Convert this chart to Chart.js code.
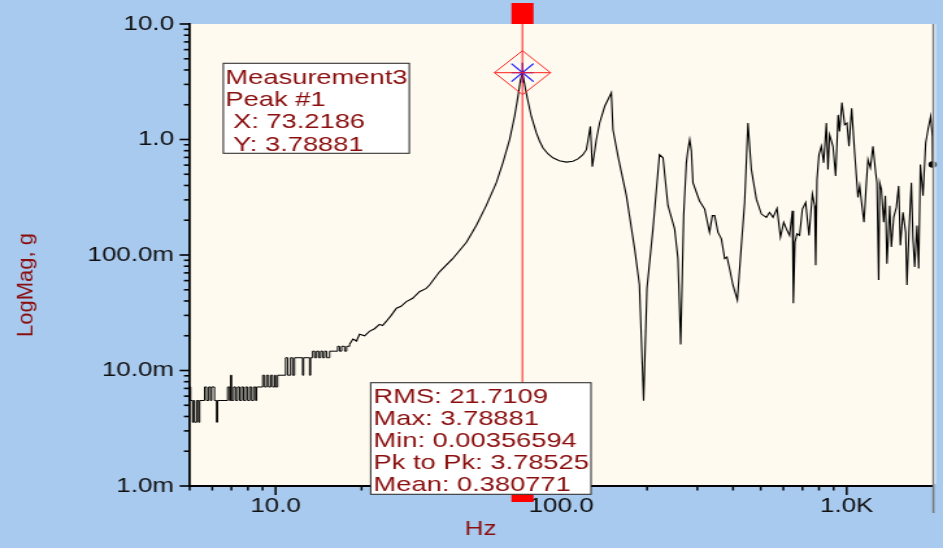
<!DOCTYPE html>
<html>
<head>
<meta charset="utf-8">
<title>LogMag, g</title>
<script src="https://cdn.jsdelivr.net/npm/chart.js@4.4.1/dist/chart.umd.min.js"></script>
<style>
  html, body { margin: 0; padding: 0; background: #a8caef; overflow: hidden; }
</style>
</head>
<body>
<!-- drawn at 726 wide and shown at 943, so the whole plot is widened like the analyzer's export -->
<canvas id="plot" width="726" height="548" style="width:943px;height:548px;display:block"></canvas>
<script>
// low band, quantized readings (Hz / g), drawn as steps
const stepFreq = [5.00, 5.04, 5.12, 5.16, 5.20, 5.29, 5.37, 5.42, 5.64, 5.73, 5.83, 5.92, 5.97, 6.11, 6.21, 6.26,
  6.79, 6.90, 6.96, 7.01, 7.13, 7.24, 7.36, 7.48, 7.60, 7.72, 7.85, 7.98, 8.11, 8.24, 8.37, 8.51, 8.58,
  9.01, 9.15, 9.30, 9.45, 9.61, 9.76, 9.92, 10.0, 10.16, 10.84, 11.02, 11.28, 11.47, 11.65, 12.43, 12.53,
  13.15, 13.26, 13.48, 13.70, 13.92, 14.15, 14.38, 14.61, 14.85, 15.09, 15.46, 16.49, 16.75, 17.03, 17.45, 17.73, 18.16];
const stepMag = [0.0072, 0.0055, 0.00356594, 0.0055, 0.00356594, 0.0055, 0.00356594, 0.0055, 0.0072, 0.0055, 0.0072, 0.0055, 0.0072, 0.0055, 0.00356594, 0.0055,
  0.0072, 0.0055, 0.0091, 0.0055, 0.0072, 0.0055, 0.0072, 0.0055, 0.0072, 0.0055, 0.0072, 0.0055, 0.0072, 0.0055, 0.0072, 0.0055, 0.0072,
  0.0091, 0.0072, 0.0091, 0.0072, 0.0091, 0.0072, 0.0091, 0.0072, 0.0091, 0.0129, 0.0091, 0.0129, 0.0091, 0.0129, 0.0091, 0.0129,
  0.0091, 0.0129, 0.0147, 0.0129, 0.0147, 0.0129, 0.0147, 0.0129, 0.0147, 0.0129, 0.0147, 0.0162, 0.0147, 0.0162, 0.0147, 0.0162, 0.0169];

// rest of the spectrum (Hz / g)
const traceFreq = [18.16, 18.66, 19.2, 19.68, 20.5, 21.3, 22.2, 23.1, 23.7, 24.4, 25.4, 26.5, 27.5, 28.7, 30.2, 31.9, 33.7, 34.6,
  37.5, 41.7, 46.6, 50.5, 54.7, 59.3, 62.5, 66.0, 68.7, 70.6, 72.0, 73.2186, 75.5, 78.6, 81.9, 84.0, 86.4, 90.0, 93.6, 98.5,
  104.3, 110.0, 114.5, 119.0, 122.6, 126.6, 128.6, 132.8, 136.4, 142.1, 149.9, 151.9, 158.1, 169.2, 180.9, 188.0, 194.5, 199.8,
  209.7, 221.0, 227.4, 236.6, 249.7, 256.5, 262.2, 268.6, 274.5, 278.1, 282.0, 285.8, 289.5, 305.0, 318.2, 331.0,
  338.5, 344.9, 354.2, 364.1, 373.9, 380.8, 389.0, 399.6, 414.1, 427.7, 439.2, 451.1, 463.6, 482.7, 502.6, 523.3,
  537.0, 552.1, 570.2, 586.1, 601.9, 615.0, 631.0, 645.4, 650.6, 659.1, 669.8, 684.0, 699.5, 718.5, 737.9, 758.5,
  772.6, 778.9, 787.1, 799.9, 815.4, 830.7, 849.1, 860.1, 871.0, 895.4, 915.1, 933.6, 944.0, 962.6, 984.0, 1002.3,
  1018.6, 1041.0, 1066.6, 1095.4, 1111.0, 1131.3, 1149.7, 1172.2, 1187.4, 1210.6, 1236.2, 1263.5, 1276.6, 1294.4,
  1305.0, 1322.8, 1347.8, 1366.2, 1383.9, 1415.0, 1433.8, 1460.8, 1492.7, 1520.8, 1541.7, 1574.6, 1609.4, 1626.2,
  1652.6, 1684.9, 1706.8, 1730.5, 1762.8, 1787.3, 1811.9, 1850.6, 1891.1, 1926.3, 1968.8, 1995.9, 2000];
const traceMag = [0.0169, 0.0187, 0.0180, 0.0206, 0.0200, 0.0218, 0.0230, 0.0251, 0.0245, 0.0266, 0.0300, 0.0346, 0.0360, 0.0395, 0.0422, 0.0481, 0.0514, 0.055,
  0.0715, 0.0929, 0.129, 0.181, 0.269, 0.423, 0.628, 0.996, 1.59, 2.36, 3.26, 3.78881, 2.51, 1.59, 1.14, 0.97, 0.845, 0.75, 0.694, 0.655,
  0.637, 0.648, 0.680, 0.735, 0.817, 1.298, 0.581, 0.996, 1.39, 1.939, 2.542, 1.214, 0.722, 0.327, 0.113, 0.0553, 0.00547, 0.0514,
  0.1682, 0.7405, 0.694, 0.2686, 0.1682, 0.0929, 0.0168, 0.2205, 0.628, 0.817, 0.996, 0.797, 0.423, 0.2948, 0.2497, 0.157,
  0.2192, 0.2192, 0.157, 0.138, 0.0929, 0.0961, 0.0763, 0.055, 0.0408, 0.1212, 0.285, 1.39, 0.5506, 0.3043, 0.2262, 0.212,
  0.234, 0.212, 0.2531, 0.1427, 0.192, 0.1682, 0.1476, 0.2419, 0.0382, 0.129, 0.1524, 0.1476, 0.2497, 0.285, 0.1476, 0.336,
  0.267, 0.0816, 0.4519, 0.7405, 0.874, 0.628, 1.39, 0.5506, 1.0996, 0.874, 0.4831, 1.633, 1.176, 2.086, 1.34, 1.39,
  0.874, 1.864, 0.766, 0.3147, 0.3965, 0.267, 0.192, 0.423, 0.6709, 0.569, 0.874, 0.516, 0.423, 0.0607,
  0.423, 0.3707, 0.192, 0.3255, 0.0842, 0.267, 0.1171, 0.212, 0.2582, 0.3965, 0.1212, 0.234, 0.157, 0.055,
  0.157, 0.423, 0.138, 0.0788, 0.1799, 0.0763, 0.6077, 0.3255, 0.933, 1.214, 1.581, 1.065, 0.6077];

// axis decades and their labels
const xDecades = [10, 100, 1000];
const xTickLabels = ['10.0', '100.0', '1.0K'];
const yDecades = [0.001, 0.01, 0.1, 1, 10];
const yTickLabels = ['1.0m', '10.0m', '100.0m', '1.0', '10.0'];

// statistics readout
const statNames = ['RMS', 'Max', 'Min', 'Pk to Pk', 'Mean'];
const statValues = ['21.7109', '3.78881', '0.00356594', '3.78525', '0.380771'];

const peakIndex = traceMag.indexOf(Math.max(...traceMag));
const peakFreq = traceFreq[peakIndex];
const peakMag = traceMag[peakIndex];

const SX = 943 / 726;          // horizontal stretch of the canvas
const FONT = '"Liberation Sans", Arial, sans-serif';
const DARK_RED = '#8b0e0e';

function logTicks(decades, lo, hi) {
  const out = [];
  decades.forEach(d => {
    for (let m = 1; m <= 9; m++) {
      const v = m * d;
      if (v >= lo * 0.999 && v <= hi * 1.001) out.push({ value: v });
    }
  });
  return out;
}

const backdrop = {
  id: 'backdrop',
  beforeDraw(chart) {
    const { ctx, chartArea: a, width, height } = chart;
    ctx.save();
    ctx.fillStyle = '#a8caef';
    ctx.fillRect(0, 0, width, height);
    ctx.fillStyle = '#fffaef';
    ctx.fillRect(a.left, a.top, a.right - a.left, a.bottom - a.top);
    ctx.restore();
  }
};

function noteBox(ctx, left, top, w, h, lines, textLeft, firstBase, step) {
  ctx.fillStyle = '#ffffff';
  ctx.fillRect(left, top, w, h);
  ctx.strokeStyle = '#333333';
  ctx.lineWidth = 1.1;
  ctx.strokeRect(left, top, w, h);
  ctx.fillStyle = DARK_RED;
  ctx.font = '21px ' + FONT;
  ctx.textAlign = 'left';
  ctx.textBaseline = 'alphabetic';
  lines.forEach((s, i) => ctx.fillText(s, textLeft, firstBase + i * step));
}

const overlay = {
  id: 'overlay',
  afterDraw(chart) {
    const { ctx, chartArea: a, scales: { x, y } } = chart;
    ctx.save();

    // tick marks
    ctx.strokeStyle = '#000';
    ctx.lineWidth = 1.6;
    y.ticks.forEach(t => {
      const py = y.getPixelForValue(t.value);
      const len = yDecades.includes(t.value) ? 7.7 : 4.4;
      ctx.beginPath();
      ctx.moveTo(a.left - len, py);
      ctx.lineTo(a.left, py);
      ctx.stroke();
    });
    ctx.lineWidth = 1.5;
    x.ticks.forEach(t => {
      if (t.value >= x.max) return;
      const px = x.getPixelForValue(t.value);
      const len = xDecades.includes(t.value) ? 9 : 4.5;
      ctx.beginPath();
      ctx.moveTo(px, a.bottom);
      ctx.lineTo(px, a.bottom + len);
      ctx.stroke();
    });

    // right frame edge
    ctx.strokeStyle = '#7a7a7a';
    ctx.lineWidth = 1.6;
    ctx.beginPath();
    ctx.moveTo(a.right + 0.6, a.top);
    ctx.lineTo(a.right + 0.6, a.bottom + 27);
    ctx.stroke();
    ctx.strokeStyle = '#ffffff';
    ctx.lineWidth = 0.9;
    ctx.beginPath();
    ctx.moveTo(a.right + 1.9, a.top);
    ctx.lineTo(a.right + 1.9, a.bottom - 2);
    ctx.stroke();

    // peak cursor
    const cx = x.getPixelForValue(peakFreq);
    const cy = y.getPixelForValue(peakMag);
    ctx.strokeStyle = '#1a1aff';
    ctx.lineWidth = 1.2;
    [[8.5, 0], [0, 10], [8.5, 9], [8.5, -9]].forEach(([dx, dy]) => {
      ctx.beginPath();
      ctx.moveTo(cx - dx, cy - dy);
      ctx.lineTo(cx + dx, cy + dy);
      ctx.stroke();
    });
    ctx.strokeStyle = 'rgba(255, 0, 0, 0.6)';
    ctx.lineWidth = 1.5;
    ctx.beginPath();
    ctx.moveTo(cx, 3);
    ctx.lineTo(cx, a.bottom + 16);
    ctx.stroke();
    ctx.strokeStyle = '#ff2020';
    ctx.lineWidth = 1;
    ctx.beginPath();
    ctx.moveTo(cx - 21.6, cy);
    ctx.lineTo(cx, cy - 22);
    ctx.lineTo(cx + 21.6, cy);
    ctx.lineTo(cx, cy + 22);
    ctx.closePath();
    ctx.moveTo(cx - 21.6, cy);
    ctx.lineTo(cx + 21.6, cy);
    ctx.stroke();
    ctx.fillStyle = '#ff0000';
    ctx.fillRect(cx - 8.5, 3, 17, a.top - 3);
    ctx.fillRect(cx - 8.5, a.bottom, 17, 16);

    // readouts
    noteBox(ctx, 171.9, 63.3, 143.2, 90,
      ['Measurement3', 'Peak #1', ' X: ' + peakFreq, ' Y: ' + peakMag],
      173.6, 83.5, 22.4);
    noteBox(ctx, 285.4, 382.7, 169.6, 111.6,
      statNames.map((n, i) => n + ': ' + statValues[i]),
      287.6, 403.4, 21.9);

    // axis titles
    ctx.fillStyle = DARK_RED;
    ctx.font = '20px ' + FONT;
    ctx.textAlign = 'center';
    ctx.textBaseline = 'alphabetic';
    ctx.fillText('Hz', 370, 535);
    ctx.translate(25, 285);
    ctx.scale(1 / SX, 1);
    ctx.rotate(-Math.PI / 2);
    ctx.font = '22px ' + FONT;
    ctx.fillText('LogMag, g', 0, 0);
    ctx.restore();
  }
};

new Chart(document.getElementById('plot'), {
  type: 'scatter',
  data: {
    datasets: [
      {
        data: stepFreq.map((f, i) => ({ x: f, y: stepMag[i] })),
        showLine: true,
        stepped: true,
        borderColor: '#000',
        borderWidth: 1,
        pointRadius: 0
      },
      {
        data: traceFreq.map((f, i) => ({ x: f, y: traceMag[i] })),
        showLine: true,
        borderColor: '#000',
        borderWidth: 1.1,
        pointRadius: ctx => (ctx.dataIndex === traceFreq.length - 1 ? 3.2 : 0),
        pointBackgroundColor: '#000',
        pointBorderWidth: 0,
        clip: 6
      }
    ]
  },
  options: {
    responsive: false,
    animation: false,
    devicePixelRatio: 1,
    events: [],
    layout: { padding: { top: 20, right: 8, left: 0, bottom: 0 } },
    plugins: { legend: { display: false }, tooltip: { enabled: false } },
    scales: {
      x: {
        type: 'logarithmic',
        position: 'bottom',
        min: 5,
        max: 2000,
        grid: { display: false, drawTicks: false },
        border: { display: true, color: '#000', width: 2 },
        afterBuildTicks: s => { s.ticks = logTicks([1, 10, 100, 1000], 5, 2000); },
        afterFit: s => { s.height = 62; },
        ticks: {
          autoSkip: false,
          maxRotation: 0,
          padding: 8,
          color: '#111',
          font: { family: FONT, size: 20 },
          callback: v => { const i = xDecades.indexOf(v); return i >= 0 ? xTickLabels[i] : ''; }
        }
      },
      y: {
        type: 'logarithmic',
        position: 'left',
        min: 0.001,
        max: 10,
        grid: { display: false, drawTicks: false },
        border: { display: true, color: '#000', width: 1.8 },
        afterBuildTicks: s => { s.ticks = logTicks([0.001, 0.01, 0.1, 1, 10], 0.001, 10); },
        afterFit: s => { s.width = 146; },
        ticks: {
          autoSkip: false,
          padding: 12,
          color: '#111',
          font: { family: FONT, size: 20 },
          callback: v => { const i = yDecades.indexOf(v); return i >= 0 ? yTickLabels[i] : ''; }
        }
      }
    }
  },
  plugins: [backdrop, overlay]
});
</script>
</body>
</html>
